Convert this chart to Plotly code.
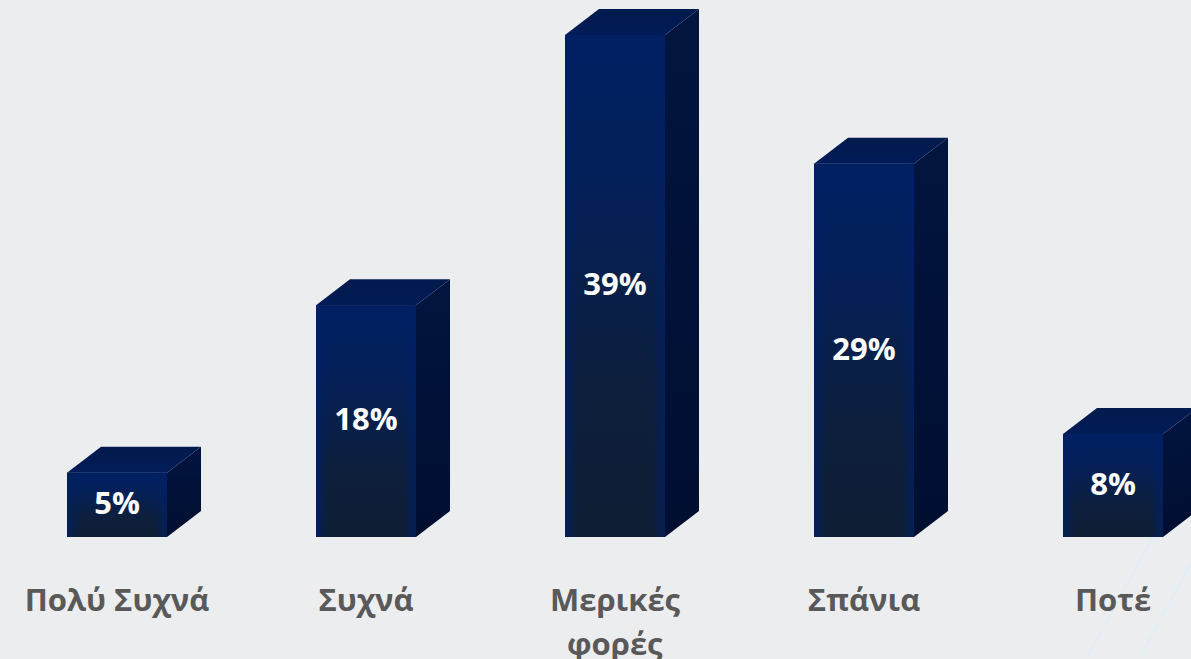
import plotly.graph_objects as go

categories = ["Πολύ Συχνά", "Συχνά", "Μερικές φορές", "Σπάνια", "Ποτέ"]
values = [5, 18, 39, 29, 8]

W, H = 1191, 659
BASE_PX = 537
PX_PER_PCT = 12.87
PX_PER_CAT = 249
FIRST_CENTER_PX = 117
BAR_PX = 100
DX = 34 / PX_PER_CAT
DY = 26 / PX_PER_PCT
HW = BAR_PX / PX_PER_CAT / 2
BG = "#ECEDEF"

fig = go.Figure()
idx = list(range(len(categories)))

# Front faces as real bars
fig.add_trace(go.Bar(x=idx, y=values, width=BAR_PX / PX_PER_CAT,
                     marker=dict(color="#0A1F4A", line=dict(width=0)),
                     hoverinfo="skip", showlegend=False))


def poly(xs, ys, grad):
    fig.add_trace(go.Scatter(x=xs, y=ys, mode="lines", fill="toself",
                             line=dict(width=0), fillgradient=grad,
                             hoverinfo="skip", showlegend=False))


for i, v in zip(idx, values):
    l, r = i - HW, i + HW
    # front: vertical gradient
    poly([l, r, r, l, l], [0, 0, v, v, 0],
         dict(type="vertical", start=0, stop=v,
              colorscale=[[0, "#0F1E34"], [0.3, "#0D1F3C"], [0.72, "#04205A"], [1, "#012062"]]))
    # front: bluer side edges
    poly([l, r, r, l, l], [0, 0, v, v, 0],
         dict(type="horizontal", start=l, stop=r,
              colorscale=[[0, "rgba(0,32,100,0.75)"], [0.13, "rgba(0,32,100,0)"],
                          [0.87, "rgba(0,32,100,0)"], [1, "rgba(0,32,100,0.75)"]]))
    # side face
    poly([r, r + DX, r + DX, r, r], [0, DY, v + DY, v, 0],
         dict(type="vertical", start=0, stop=v + DY,
              colorscale=[[0, "#000F30"], [0.5, "#011138"], [1, "#01153F"]]))
    # top face
    poly([l, r, r + DX, l + DX, l], [v, v, v + DY, v + DY, v],
         dict(type="vertical", start=v, stop=v + DY,
              colorscale=[[0, "#001C58"], [1, "#021A4C"]]))

# Value labels
fig.add_trace(go.Scatter(x=idx, y=[v / 2 - 0.12 for v in values], mode="text",
                         text=[f"{v}%" for v in values],
                         textfont=dict(family="Open Sans", size=31, color="#FFFFFF", weight=700),
                         hoverinfo="skip", showlegend=False))

first_lines = [c.split(" ")[0] if c == "Μερικές φορές" else c for c in categories]

fig.update_layout(
    width=W, height=H, margin=dict(l=0, r=0, t=0, b=H - BASE_PX, pad=0),
    paper_bgcolor=BG, plot_bgcolor="rgba(0,0,0,0)", showlegend=False,
    xaxis=dict(range=[-FIRST_CENTER_PX / PX_PER_CAT, (W - FIRST_CENTER_PX) / PX_PER_CAT],
               tickmode="array", tickvals=idx, ticktext=first_lines,
               tickfont=dict(family="Open Sans", size=31, color="#595959", weight=700),
               ticks="outside", ticklen=36, tickcolor="rgba(0,0,0,0)",
               showgrid=False, zeroline=False, showline=False, fixedrange=True),
    yaxis=dict(range=[0, BASE_PX / PX_PER_PCT], visible=False, fixedrange=True),
    shapes=[
        dict(type="line", xref="paper", yref="paper", layer="below",
             x0=1153 / W, y0=(H - 537) / (H - BASE_PX) * 0 + (BASE_PX - 537) / BASE_PX,
             x1=1087 / W, y1=(BASE_PX - 657) / BASE_PX,
             line=dict(color="#E3EEF4", width=3)),
        dict(type="line", xref="paper", yref="paper", layer="below",
             x0=1191 / W, y0=(BASE_PX - 563) / BASE_PX,
             x1=1140 / W, y1=(BASE_PX - 657) / BASE_PX,
             line=dict(color="#E3EEF4", width=3)),
    ],
    annotations=[
        dict(x=2, xref="x", y=0, yref="paper", yanchor="middle", yshift=-(643 - BASE_PX),
             text="φορές", showarrow=False,
             font=dict(family="Open Sans", size=31, color="#595959", weight=700)),
    ],
)

fig.write_html("out.html", config={"displayModeBar": False},
               post_script="document.body.style.margin='0';document.documentElement.style.background='" + BG + "';")
